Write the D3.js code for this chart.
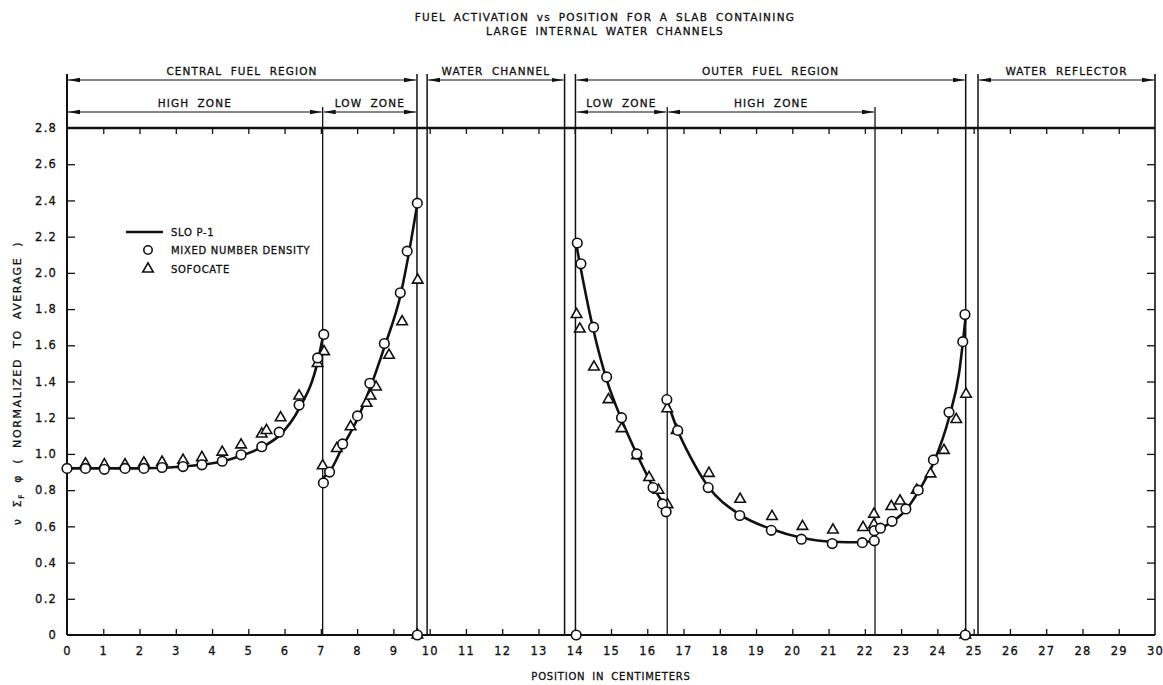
<!DOCTYPE html>
<html>
<head>
<meta charset="utf-8">
<script src="https://cdn.jsdelivr.net/npm/d3@7"></script>
<style>
html,body{margin:0;padding:0;background:#fff;}
svg{display:block;}
text{font-family:"DejaVu Sans",sans-serif;fill:#111;stroke:#111;stroke-width:0.3;}
</style>
</head>
<body>
<svg id="chart" width="1163" height="685"></svg>
<script>
// ---------- DATA ----------
const titleLines = ["FUEL ACTIVATION vs POSITION FOR A SLAB CONTAINING", "LARGE INTERNAL WATER CHANNELS"];
const xTicks = d3.range(0, 31, 1);
const yTicks = [0, 0.2, 0.4, 0.6, 0.8, 1.0, 1.2, 1.4, 1.6, 1.8, 2.0, 2.2, 2.4, 2.6, 2.8];
const yTickLabels = ["0", "0.2", "0.4", "0.6", "0.8", "1.0", "1.2", "1.4", "1.6", "1.8", "2.0", "2.2", "2.4", "2.6", "2.8"];

// region boundaries (cm)
const fullBoundaries = [9.65, 9.93, 13.72, 14.02, 24.78, 25.12];
const zoneBoundaries = [7.05, 16.55, 22.28];

// header arrows: [start, end, label]
const regionStarts = [0, 9.93, 14.02, 25.12];
const regionEnds = [9.65, 13.72, 24.78, 30];
const regionLabels = ["CENTRAL FUEL REGION", "WATER CHANNEL", "OUTER FUEL REGION", "WATER REFLECTOR"];
const zoneStarts = [0, 7.05, 14.02, 16.55];
const zoneEnds = [7.05, 9.65, 16.55, 22.28];
const zoneLabels = ["HIGH ZONE", "LOW ZONE", "LOW ZONE", "HIGH ZONE"];

// SLO P-1 curve, one segment per fuel zone
const sloX1 = [0, 1, 2, 3, 3.7, 4.3, 4.8, 5.4, 5.9, 6.4, 6.9, 7.05];
const sloY1 = [0.92, 0.92, 0.92, 0.928, 0.94, 0.96, 0.99, 1.04, 1.11, 1.25, 1.50, 1.64];
const sloX2 = [7.07, 7.25, 7.6, 8.0, 8.35, 8.75, 9.2, 9.4, 9.65];
const sloY2 = [0.87, 0.905, 1.04, 1.19, 1.36, 1.59, 1.88, 2.08, 2.37];
const sloX3 = [14.04, 14.17, 14.52, 14.88, 15.29, 15.71, 16.16, 16.42, 16.55];
const sloY3 = [2.16, 2.02, 1.68, 1.41, 1.19, 1.00, 0.82, 0.735, 0.70];
const sloX4 = [16.57, 16.84, 17.2, 17.68, 18.55, 19.42, 20.25, 21.1, 21.93, 22.28];
const sloY4 = [1.28, 1.13, 0.98, 0.82, 0.665, 0.585, 0.537, 0.515, 0.512, 0.52];
const sloX5 = [22.28, 22.43, 22.75, 23.13, 23.47, 23.89, 24.32, 24.6, 24.78];
const sloY5 = [0.56, 0.585, 0.625, 0.69, 0.79, 0.95, 1.20, 1.45, 1.76];

// MIXED NUMBER DENSITY (circles)
const mixedX = [0, 0.51, 1.03, 1.6, 2.12, 2.62, 3.2, 3.72, 4.28, 4.8, 5.37, 5.85, 6.4, 6.91, 7.08,
  7.07, 7.24, 7.6, 8.01, 8.35, 8.75, 9.19, 9.38, 9.66, 9.66, 14.04,
  14.07, 14.17, 14.52, 14.88, 15.29, 15.71, 16.16, 16.42, 16.52,
  16.54, 16.84, 17.68, 18.55, 19.42, 20.25, 21.1, 21.93, 22.26,
  22.26, 22.43, 22.75, 23.13, 23.47, 23.89, 24.32, 24.7, 24.76, 24.77];
const mixedY = [0.92, 0.92, 0.915, 0.92, 0.92, 0.925, 0.93, 0.94, 0.96, 0.995, 1.04, 1.12, 1.27, 1.53, 1.66,
  0.84, 0.90, 1.055, 1.21, 1.39, 1.61, 1.89, 2.12, 2.385, 0, 0,
  2.165, 2.05, 1.70, 1.425, 1.20, 1.00, 0.814, 0.724, 0.68,
  1.30, 1.13, 0.814, 0.66, 0.578, 0.529, 0.505, 0.51, 0.52,
  0.576, 0.59, 0.628, 0.696, 0.80, 0.967, 1.23, 1.62, 1.77, 0];

// SOFOCATE (triangles)
const sofX = [0.51, 1.03, 1.6, 2.12, 2.62, 3.2, 3.72, 4.28, 4.8, 5.37, 5.5, 5.89, 6.4, 6.91, 7.09,
  7.05, 7.44, 7.82, 8.26, 8.37, 8.52, 8.88, 9.24, 9.67, 9.66,
  14.05, 14.14, 14.53, 14.93, 15.29, 15.72, 16.05, 16.31, 16.56,
  16.55, 16.81, 17.7, 18.56, 19.44, 20.28, 21.12, 21.95, 22.25, 22.25,
  22.73, 22.97, 23.43, 23.81, 24.18, 24.52, 24.79, 24.77];
const sofY = [0.945, 0.94, 0.94, 0.95, 0.955, 0.965, 0.98, 1.01, 1.05, 1.11, 1.13, 1.20, 1.32, 1.50, 1.565,
  0.935, 1.03, 1.15, 1.28, 1.32, 1.37, 1.545, 1.73, 1.96, 0,
  1.77, 1.69, 1.48, 1.30, 1.14, 0.99, 0.87, 0.80, 0.72,
  1.25, 1.13, 0.893, 0.75, 0.655, 0.60, 0.58, 0.594, 0.667, 0.61,
  0.71, 0.74, 0.80, 0.89, 1.02, 1.19, 1.33, 0];

const legendLabels = ["SLO P-1", "MIXED NUMBER DENSITY", "SOFOCATE"];
const xAxisTitle = "POSITION IN CENTIMETERS";

// ---------- LAYOUT ----------
const svg = d3.select("#chart");
const x = d3.scaleLinear().domain([0, 30]).range([67, 1155]);
const y = d3.scaleLinear().domain([0, 2.8]).range([635, 128]);
const row1Y = 80, row2Y = 112, vTop = 74;
const ink = "#111";

// title
svg.selectAll("text.title").data(titleLines).join("text")
  .attr("class", "title")
  .attr("x", 605).attr("y", (d, i) => 21 + i * 14)
  .attr("text-anchor", "middle")
  .attr("font-size", 10.5).attr("letter-spacing", 1.3).attr("word-spacing", 3)
  .text(d => d);

// frame
const g = svg.append("g");
g.append("line").attr("x1", x(0)).attr("x2", x(30)).attr("y1", y(2.8)).attr("y2", y(2.8))
  .attr("stroke", ink).attr("stroke-width", 2.4);
g.append("line").attr("x1", x(0)).attr("x2", x(30)).attr("y1", y(0)).attr("y2", y(0))
  .attr("stroke", ink).attr("stroke-width", 2);
g.append("line").attr("x1", x(0)).attr("x2", x(0)).attr("y1", vTop).attr("y2", y(0))
  .attr("stroke", ink).attr("stroke-width", 2);
g.append("line").attr("x1", x(30)).attr("x2", x(30)).attr("y1", vTop).attr("y2", y(0))
  .attr("stroke", ink).attr("stroke-width", 1.6);

// boundaries
g.selectAll("line.fb").data(fullBoundaries).join("line").attr("class", "fb")
  .attr("x1", d => x(d)).attr("x2", d => x(d)).attr("y1", vTop).attr("y2", y(0))
  .attr("stroke", ink).attr("stroke-width", 1.5);
g.selectAll("line.zb").data(zoneBoundaries).join("line").attr("class", "zb")
  .attr("x1", d => x(d)).attr("x2", d => x(d)).attr("y1", row2Y - 5).attr("y2", y(0))
  .attr("stroke", ink).attr("stroke-width", 1.3);

// axes with inward ticks
const xb = d3.axisBottom(x).tickValues(xTicks).tickSize(0).tickPadding(12).tickFormat(d3.format("d"));
const axB = svg.append("g").attr("transform", `translate(0,${y(0)})`).call(xb);
axB.select(".domain").remove();
axB.selectAll("text").attr("font-size", 11.5).attr("letter-spacing", 1.2).attr("fill", ink)
  .style("font-family", "DejaVu Sans");
const tickB = d3.axisTop(x).tickValues(xTicks.filter(v => v > 0 && v < 30)).tickSize(6).tickFormat("");
svg.append("g").attr("transform", `translate(0,${y(0)})`).call(tickB)
  .call(s => s.select(".domain").remove()).selectAll("line").attr("stroke", ink).attr("stroke-width", 1.3);
const tickT = d3.axisBottom(x).tickValues(xTicks.filter(v => v > 0 && v < 30)).tickSize(6).tickFormat("");
svg.append("g").attr("transform", `translate(0,${y(2.8)})`).call(tickT)
  .call(s => s.select(".domain").remove()).selectAll("line").attr("stroke", ink).attr("stroke-width", 1.3);

const yl = d3.axisRight(y).tickValues(yTicks.filter(v => v > 0 && v < 2.8)).tickSize(8).tickFormat("");
svg.append("g").attr("transform", `translate(${x(0)},0)`).call(yl)
  .call(s => s.select(".domain").remove()).selectAll("line").attr("stroke", ink).attr("stroke-width", 1.3);
const yr = d3.axisLeft(y).tickValues(yTicks.filter(v => v > 0 && v < 2.8)).tickSize(8).tickFormat("");
svg.append("g").attr("transform", `translate(${x(30)},0)`).call(yr)
  .call(s => s.select(".domain").remove()).selectAll("line").attr("stroke", ink).attr("stroke-width", 1.3);
const ylab = d3.axisLeft(y).tickValues(yTicks).tickSize(0).tickPadding(10)
  .tickFormat((d, i) => yTickLabels[i]);
const axL = svg.append("g").attr("transform", `translate(${x(0)},0)`).call(ylab);
axL.select(".domain").remove();
axL.selectAll("text").attr("font-size", 11.5).attr("letter-spacing", 1.2).attr("fill", ink)
  .style("font-family", "DejaVu Sans");

// header arrows
const defs = svg.append("defs");
defs.append("marker").attr("id", "ah").attr("viewBox", "0 0 12 6")
  .attr("refX", 12).attr("refY", 3).attr("markerWidth", 12).attr("markerHeight", 6)
  .attr("markerUnits", "userSpaceOnUse").attr("orient", "auto-start-reverse")
  .append("path").attr("d", "M0,0.8 L12,3 L0,5.2 Z").attr("fill", ink);

function headerRow(starts, ends, labels, yy) {
  const rows = starts.map((s, i) => ({ s, e: ends[i], l: labels[i] }));
  svg.selectAll(null).data(rows).join("line")
    .attr("x1", d => x(d.s) + 1).attr("x2", d => x(d.e) - 1).attr("y1", yy).attr("y2", yy)
    .attr("stroke", ink).attr("stroke-width", 1.2)
    .attr("marker-start", "url(#ah)").attr("marker-end", "url(#ah)");
  svg.selectAll(null).data(rows).join("text")
    .attr("x", d => (x(d.s) + x(d.e)) / 2).attr("y", yy - 5)
    .attr("text-anchor", "middle").attr("font-size", 10.5).attr("letter-spacing", 1.1).attr("word-spacing", 4)
    .text(d => d.l);
}
headerRow(regionStarts, regionEnds, regionLabels, row1Y);
headerRow(zoneStarts, zoneEnds, zoneLabels, row2Y);

// SLO P-1 lines
const line = d3.line().x(d => x(d[0])).y(d => y(d[1])).curve(d3.curveMonotoneX);
const segs = [[sloX1, sloY1], [sloX2, sloY2], [sloX3, sloY3], [sloX4, sloY4], [sloX5, sloY5]]
  .map(([xs, ys]) => xs.map((v, i) => [v, ys[i]]));
svg.selectAll("path.slo").data(segs).join("path").attr("class", "slo")
  .attr("d", line).attr("fill", "none").attr("stroke", ink).attr("stroke-width", 2.6);

// triangles then circles
const tri = d3.symbol().type(d3.symbolTriangle).size(48);
svg.selectAll("path.tri").data(sofX.map((v, i) => [v, sofY[i]])).join("path").attr("class", "tri")
  .attr("d", tri).attr("transform", d => `translate(${x(d[0])},${y(d[1])})`)
  .attr("fill", "#fff").attr("stroke", ink).attr("stroke-width", 1.6);
svg.selectAll("circle.mix").data(mixedX.map((v, i) => [v, mixedY[i]])).join("circle").attr("class", "mix")
  .attr("cx", d => x(d[0])).attr("cy", d => y(d[1])).attr("r", 4.8)
  .attr("fill", "#fff").attr("stroke", ink).attr("stroke-width", 1.6);

// legend
const lg = svg.append("g");
lg.append("line").attr("x1", 126).attr("x2", 163).attr("y1", 232).attr("y2", 232)
  .attr("stroke", ink).attr("stroke-width", 2.6);
lg.append("circle").attr("cx", 148).attr("cy", 250).attr("r", 4.2)
  .attr("fill", "#fff").attr("stroke", ink).attr("stroke-width", 1.6);
lg.append("path").attr("d", tri).attr("transform", "translate(148,269)")
  .attr("fill", "#fff").attr("stroke", ink).attr("stroke-width", 1.6);
lg.selectAll("text").data(legendLabels).join("text")
  .attr("x", 171).attr("y", (d, i) => [236, 254, 273][i])
  .attr("font-size", 10).attr("letter-spacing", 0.7)
  .text(d => d);

// axis titles
svg.append("text").attr("x", 611).attr("y", 680).attr("text-anchor", "middle")
  .attr("font-size", 10).attr("letter-spacing", 0.8).attr("word-spacing", 3).text(xAxisTitle);

const yt = svg.append("text").attr("transform", "translate(21,383) rotate(-90)")
  .attr("text-anchor", "middle").attr("font-size", 11).attr("letter-spacing", 1.6).attr("word-spacing", 5);
yt.append("tspan").text("ν Σ");
yt.append("tspan").attr("font-size", 7.5).attr("dy", 3).text("F");
yt.append("tspan").attr("dy", -3).text(" φ ( NORMALIZED TO AVERAGE )");
</script>
</body>
</html>
